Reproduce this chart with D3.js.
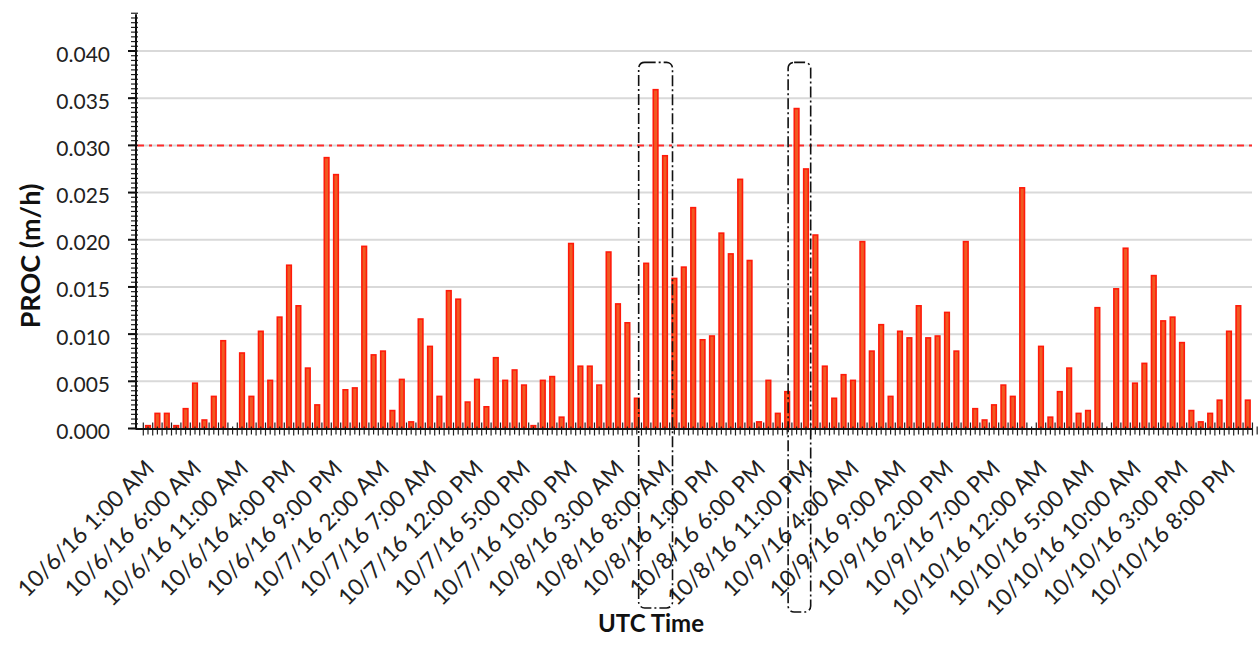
<!DOCTYPE html>
<html><head><meta charset="utf-8">
<script src="https://cdn.jsdelivr.net/npm/d3@7"></script>
<style>body{margin:0;background:#fff;} svg{display:block;}</style>
</head><body><svg id="c" width="1259" height="645"></svg>
<script>
// Hourly PROC values (m/h), 10/6/16 1:00 AM onward
const values = [
 0.0003,0.0016,0.0016,0.0003,0.0021,0.0048,0.0009,0.0034,0.0093,0,
 0.0080,0.0034,0.0103,0.0051,0.0118,0.0173,0.0130,0.0064,0.0025,0.0287,
 0.0269,0.0041,0.0043,0.0193,0.0078,0.0082,0.0019,0.0052,0.0007,0.0116,
 0.0087,0.0034,0.0146,0.0137,0.0028,0.0052,0.0023,0.0075,0.0051,0.0062,
 0.0046,0.0003,0.0051,0.0055,0.0012,0.0196,0.0066,0.0066,0.0046,0.0187,
 0.0132,0.0112,0.0032,0.0175,0.0359,0.0289,0.0159,0.0171,0.0234,0.0094,
 0.0098,0.0207,0.0185,0.0264,0.0178,0.0007,0.0051,0.0016,0.0039,0.0339,
 0.0275,0.0205,0.0066,0.0032,0.0057,0.0051,0.0198,0.0082,0.0110,0.0034,
 0.0103,0.0096,0.0130,0.0096,0.0098,0.0123,0.0082,0.0198,0.0021,0.0009,
 0.0025,0.0046,0.0034,0.0255,0,0.0087,0.0012,0.0039,0.0064,0.0016,
 0.0019,0.0128,0,0.0148,0.0191,0.0048,0.0069,0.0162,0.0114,0.0118,
 0.0091,0.0019,0.0007,0.0016,0.0030,0.0103,0.0130,0.0030
];
const tickLabels = [
 "10/6/16 1:00 AM","10/6/16 6:00 AM","10/6/16 11:00 AM","10/6/16 4:00 PM","10/6/16 9:00 PM",
 "10/7/16 2:00 AM","10/7/16 7:00 AM","10/7/16 12:00 PM","10/7/16 5:00 PM","10/7/16 10:00 PM",
 "10/8/16 3:00 AM","10/8/16 8:00 AM","10/8/16 1:00 PM","10/8/16 6:00 PM","10/8/16 11:00 PM",
 "10/9/16 4:00 AM","10/9/16 9:00 AM","10/9/16 2:00 PM","10/9/16 7:00 PM",
 "10/10/16 12:00 AM","10/10/16 5:00 AM","10/10/16 10:00 AM","10/10/16 3:00 PM","10/10/16 8:00 PM"
];
const labelStep = 5;
const yTickValues = [0,0.005,0.010,0.015,0.020,0.025,0.030,0.035,0.040];
const threshold = 0.030;
const boxStart = [52.2, 68.1];
const boxEnd   = [55.8, 70.5];
const boxTop   = [0.0388, 0.0388];

const svg = d3.select("#c");
const left = 136, right = 1252, bottom = 428.5;
const font = "Lato, 'Open Sans', sans-serif";

const x = d3.scaleLinear().domain([-1.277, 117.45]).range([left, right]);
const y = d3.scaleLinear().domain([0, 0.04]).range([bottom, 51]);
const step = x(1) - x(0);

// gridlines
svg.append("g").selectAll("line").data(yTickValues.filter(d => d > 0)).join("line")
  .attr("x1", left).attr("x2", right)
  .attr("y1", d => y(d)).attr("y2", d => y(d))
  .attr("stroke", "#d9d9d9").attr("stroke-width", 2);

// threshold line
svg.append("line").attr("x1", left + 1).attr("x2", right)
  .attr("y1", y(threshold)).attr("y2", y(threshold))
  .attr("stroke", "#ff2a2a").attr("stroke-width", 2)
  .attr("stroke-dasharray", "7,5,3,5");

// bars
svg.append("g").selectAll("rect").data(values).join("rect")
  .attr("x", (d, i) => x(i) - 2.3)
  .attr("width", 4.6)
  .attr("y", d => y(d))
  .attr("height", d => bottom - y(d))
  .attr("fill", d => d > 0 ? "#f05a22" : "none")
  .attr("stroke", d => d > 0 ? "#ff1a0a" : "none")
  .attr("stroke-width", 1.6);

// Y axis
const yMinor = d3.range(0, 0.0441, 0.0005);
svg.append("g").selectAll("line").data(yMinor).join("line")
  .attr("x1", left - 5).attr("x2", left + 2)
  .attr("y1", d => y(d)).attr("y2", d => y(d))
  .attr("stroke", "#222").attr("stroke-width", 1.2);
svg.append("g").selectAll("line").data(yTickValues).join("line")
  .attr("x1", left - 8).attr("x2", left)
  .attr("y1", d => y(d)).attr("y2", d => y(d))
  .attr("stroke", "#111").attr("stroke-width", 2);
svg.append("line").attr("x1", left).attr("x2", left)
  .attr("y1", y(0.0439)).attr("y2", bottom + 1)
  .attr("stroke", "#111").attr("stroke-width", 2);
svg.append("g").selectAll("text").data(yTickValues).join("text")
  .attr("x", 110).attr("y", d => y(d) + 2)
  .attr("text-anchor", "end").attr("dominant-baseline", "central")
  .attr("font-family", font).attr("font-size", 21).attr("fill", "#222")
  .text(d => d3.format(".3f")(d));

// X axis
const halfTicks = d3.range(-1, values.length + 0.6, 0.5);
svg.append("g").selectAll("line").data(halfTicks).join("line")
  .attr("x1", d => x(d) + step / 2).attr("x2", d => x(d) + step / 2)
  .attr("y1", d => Number.isInteger(d) ? bottom - 6 : bottom - 2)
  .attr("y2", d => Number.isInteger(d) ? bottom + 7 : bottom + 6)
  .attr("stroke", "#222").attr("stroke-width", 1.2);
svg.append("line").attr("x1", left).attr("x2", right)
  .attr("y1", bottom + 0.5).attr("y2", bottom + 0.5)
  .attr("stroke", "#111").attr("stroke-width", 2);

svg.append("g").selectAll("text").data(tickLabels).join("text")
  .attr("transform", (d, k) => `translate(${x(k * labelStep) + 7.5},470) rotate(-45)`)
  .attr("text-anchor", "end")
  .attr("font-family", font).attr("font-size", 23).attr("fill", "#222")
  .text(d => d);

// Axis titles
svg.append("text")
  .attr("transform", `translate(40,256) rotate(-90)`)
  .attr("text-anchor", "middle")
  .attr("font-family", font).attr("font-weight", "bold").attr("font-size", 27)
  .attr("fill", "#111").text("PROC (m/h)");
svg.append("text")
  .attr("x", 651).attr("y", 632)
  .attr("text-anchor", "middle")
  .attr("font-family", font).attr("font-weight", "bold").attr("font-size", 24)
  .attr("fill", "#111").text("UTC Time");

// highlight boxes
const boxBottom = [608, 612];
svg.append("g").selectAll("rect").data(boxStart).join("rect")
  .attr("x", (d) => x(d))
  .attr("width", (d, i) => x(boxEnd[i]) - x(d))
  .attr("y", (d, i) => y(boxTop[i]))
  .attr("height", (d, i) => boxBottom[i] - y(boxTop[i]))
  .attr("rx", 6)
  .attr("fill", "none").attr("stroke", "#111").attr("stroke-width", 1.6)
  .attr("stroke-dasharray", "11,3,2,3");
</script></body></html>
